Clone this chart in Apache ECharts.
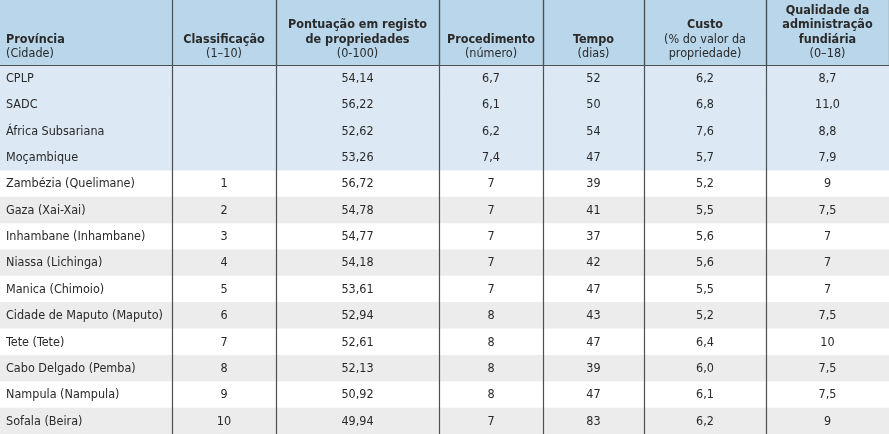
<!DOCTYPE html>
<html>
<head>
<meta charset="utf-8">
<script src="https://cdn.jsdelivr.net/npm/echarts@6/dist/echarts.min.js"></script>
<style>
  html, body { margin: 0; padding: 0; background: #fff; }
  #main { width: 889px; height: 434px; }
</style>
</head>
<body>
<div id="main"></div>
<script>
// dados da tabela
var provincias = ['CPLP', 'SADC', 'África Subsariana', 'Moçambique',
    'Zambézia (Quelimane)', 'Gaza (Xai-Xai)', 'Inhambane (Inhambane)', 'Niassa (Lichinga)',
    'Manica (Chimoio)', 'Cidade de Maputo (Maputo)', 'Tete (Tete)', 'Cabo Delgado (Pemba)',
    'Nampula (Nampula)', 'Sofala (Beira)'];
var classificacao = [null, null, null, null, 1, 2, 3, 4, 5, 6, 7, 8, 9, 10];
var pontuacao = [54.14, 56.22, 52.62, 53.26, 56.72, 54.78, 54.77, 54.18, 53.61, 52.94, 52.61, 52.13, 50.92, 49.94];
var procedimento = [6.7, 6.1, 6.2, 7.4, 7, 7, 7, 7, 7, 8, 8, 8, 8, 7];
var tempo = [52, 50, 54, 47, 39, 41, 37, 42, 47, 43, 47, 39, 47, 83];
var custo = [6.2, 6.8, 7.6, 5.7, 5.2, 5.5, 5.6, 5.6, 5.5, 5.2, 6.4, 6.0, 6.1, 6.2];
var qualidade = [8.7, 11.0, 8.8, 7.9, 9, 7.5, 7, 7, 7, 7.5, 10, 7.5, 7.5, 9];
var nBench = 4; // linhas de referência (CPLP, SADC, ...)

// cabeçalhos: [negrito, normal]
var cabecalhos = [
    [['Província'], ['(Cidade)']],
    [['Classificação'], ['(1–10)']],
    [['Pontuação em registo', 'de propriedades'], ['(0-100)']],
    [['Procedimento'], ['(número)']],
    [['Tempo'], ['(dias)']],
    [['Custo'], ['(% do valor da', 'propriedade)']],
    [['Qualidade da', 'administração', 'fundiária'], ['(0–18)']]
];

function fmt(v, d) {
    if (v === null || v === undefined) return '';
    var s = d === null ? String(v) : v.toFixed(d);
    return s.replace('.', ',');
}

// textos de cada coluna
var colunas = [
    provincias,
    classificacao.map(function (v) { return fmt(v, null); }),
    pontuacao.map(function (v) { return fmt(v, 2); }),
    procedimento.map(function (v, i) { return fmt(v, i < nBench ? 1 : null); }),
    tempo.map(function (v) { return fmt(v, 0); }),
    custo.map(function (v) { return fmt(v, 1); }),
    qualidade.map(function (v, i) { return fmt(v, i < nBench ? 1 : null); })
];

var bordas = [0, 172, 276, 439, 543, 644, 766, 889];
var topo = 65, alturaLinha = 26.77;
var fonte = '"Liberation Sans Narrow", "DejaVu Sans Condensed", "Roboto Condensed", "Liberation Sans", sans-serif';
var corTexto = '#2a2a2a', corLinha = '#4f4f4f';
var tam = 12.5;

var myChart = echarts.init(document.getElementById('main'));

var grid = [], xAxis = [], yAxis = [], series = [];
colunas.forEach(function (textos, c) {
    var largura = bordas[c + 1] - bordas[c];
    grid.push({ left: bordas[c], width: largura, top: topo, height: alturaLinha * provincias.length });

    var h = cabecalhos[c];
    var label = h[0].map(function (t) { return '{b|' + t + '}'; })
        .concat(h[1].map(function (t) { return '{n|' + t + '}'; })).join('\n');
    var alinh = c === 0 ? 'left' : 'center';
    xAxis.push({
        gridIndex: c, type: 'category', position: 'top', data: [label], z: 5,
        axisLine: { show: true, lineStyle: { color: corLinha, width: 1.2 } },
        axisTick: { show: c > 0, length: topo, lineStyle: { color: corLinha, width: 1.2 } },
        splitLine: { show: false },
        axisLabel: {
            margin: 4, interval: 0,
            width: largura - 12, align: 'center',
            color: corTexto, fontFamily: fonte,
            rich: {
                b: { fontWeight: 'bold', fontSize: tam, lineHeight: 14.5, fontFamily: fonte, color: corTexto, align: alinh },
                n: { fontSize: tam, lineHeight: 14.5, fontFamily: fonte, color: corTexto, align: alinh }
            }
        }
    });
    yAxis.push({
        gridIndex: c, type: 'category', data: provincias, inverse: true, z: 5,
        axisLine: { show: c > 0, lineStyle: { color: corLinha, width: 1.2 } },
        axisTick: { show: false }, axisLabel: { show: false }, splitLine: { show: false }
    });
    series.push({
        type: 'custom', xAxisIndex: c, yAxisIndex: c,
        data: textos.map(function (t, i) { return [0, i]; }),
        renderItem: function (params, api) {
            var i = params.dataIndex;
            var p = api.coord([api.value(0), api.value(1)]);
            var s = api.size([1, 1]);
            var fundo = i < nBench ? '#dce8f3' : ((i - nBench) % 2 ? '#ececec' : '#ffffff');
            return {
                type: 'group',
                children: [{
                    type: 'rect',
                    shape: { x: p[0] - s[0] / 2, y: p[1] - s[1] / 2, width: s[0] + 0.5, height: s[1] + 0.5 },
                    style: { fill: fundo }
                }, {
                    type: 'text',
                    style: {
                        x: c === 0 ? p[0] - s[0] / 2 + 6 : p[0],
                        y: p[1] + 0.5,
                        text: textos[i],
                        align: c === 0 ? 'left' : 'center',
                        verticalAlign: 'middle',
                        fontFamily: fonte, fontSize: tam, fill: corTexto
                    }
                }]
            };
        }
    });
});

var option = {
    backgroundColor: '#b9d6ea',
    animation: false,
    grid: grid,
    xAxis: xAxis,
    yAxis: yAxis,
    series: series
};

myChart.setOption(option);
</script>
</body>
</html>
